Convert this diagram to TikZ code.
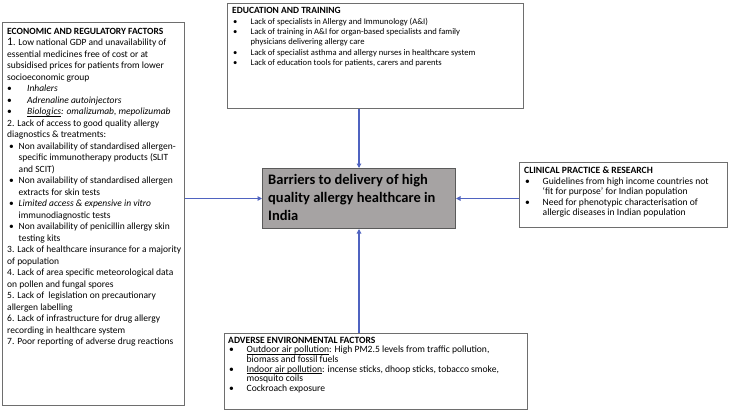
\documentclass[tikz,border=0pt]{standalone}
\usepackage{fontspec}
\setmainfont{Carlito}
\usetikzlibrary{arrows.meta}
\definecolor{boxline}{HTML}{6E6E6E}
\definecolor{arrowblue}{HTML}{4F63C0}
\definecolor{centerfill}{HTML}{A6A3A3}
\definecolor{centerline}{HTML}{5A5A5A}
\newcommand{\bigbul}{\makebox[20pt][l]{\hspace{0pt}•}}
\newcommand{\smbul}{\makebox[11.5pt][l]{\hspace{2pt}•}}
\newcommand{\smind}{\hspace*{11.5pt}}
\newcommand{\ebul}{\makebox[18.5pt][l]{\hspace{1pt}•}}
\newcommand{\eind}{\hspace*{18.5pt}}
\newcommand{\uln}[1]{\setbox0\hbox{#1}\rlap{\rule[-1.3pt]{\wd0}{0.5pt}}\box0}
\begin{document}
\begin{tikzpicture}[x=1pt,y=-1pt,
  box/.style={draw=boxline,line width=0.9pt,fill=white,anchor=north west,inner sep=0pt},
  centerbox/.style={draw=centerline,line width=1pt,fill=centerfill,anchor=north west,inner sep=0pt},
  bigtxt/.style={anchor=north west,inner sep=0pt,align=left,font=\fontsize{9.5}{11.5}\selectfont},
  txt/.style={anchor=north west,inner sep=0pt,align=left,font=\fontsize{8.6}{10.3}\selectfont},
  advtext/.style={anchor=north west,inner sep=0pt,align=left,font=\fontsize{9.6}{9.7}\selectfont},
  clintext/.style={anchor=north west,inner sep=0pt,align=left,font=\fontsize{9.6}{10.4}\selectfont},
  ctxt/.style={anchor=north west,inner sep=0pt,align=left,font=\fontsize{14.5}{18}\selectfont\bfseries},
  conn/.style={draw=arrowblue,line width=1.1pt,-{Triangle[length=4.5pt,width=4.5pt]}}]
\useasboundingbox (0,0) rectangle (733,413);
\fill[white] (0,0) rectangle (733,413);

% boxes
\node[box,minimum width=182pt,minimum height=383pt] (econ) at (2,22) {};
\node[box,minimum width=296pt,minimum height=105pt] (edu) at (227,3) {};
\node[centerbox,minimum width=193pt,minimum height=60pt] (center) at (262,168) {};
\node[box,minimum width=208pt,minimum height=65pt] (clin) at (519,162) {};
\node[box,minimum width=303pt,minimum height=76pt] (adv) at (224,333) {};

% texts
\node[bigtxt] (econtxt) at ([xshift=5pt,yshift=-6pt]econ.north west) {%
\textbf{ECONOMIC AND REGULATORY FACTORS}\\
{\fontsize{11.5}{11.5}\selectfont 1}. Low national GDP and unavailability of\\
essential medicines free of cost or at\\
subsidised prices for patients from lower\\
socioeconomic group\\
\bigbul\textit{Inhalers}\\
\bigbul\textit{Adrenaline autoinjectors}\\
\bigbul\textit{\uln{Biologics}: omalizumab, mepolizumab}\\
2. Lack of access to good quality allergy\\
diagnostics \& treatments:\\
\smbul Non availability of standardised allergen-\\
\smind specific immunotherapy products (SLIT\\
\smind and SCIT)\\
\smbul Non availability of standardised allergen\\
\smind extracts for skin tests\\
\smbul \textit{Limited access \& expensive in vitro}\\
\smind immunodiagnostic tests\\
\smbul Non availability of penicillin allergy skin\\
\smind testing kits\\
3. Lack of healthcare insurance for a majority\\
of population\\
4. Lack of area specific meteorological data\\
on pollen and fungal spores\\
5. Lack of\ \ legislation on precautionary\\
allergen labelling\\
6. Lack of infrastructure for drug allergy\\
recording in healthcare system\\
7. Poor reporting of adverse drug reactions};

\node[txt] (edutxt) at ([xshift=5pt,yshift=-4.5pt]edu.north west) {%
{\fontsize{9.5}{10.3}\selectfont\textbf{EDUCATION AND TRAINING}}\\
\ebul Lack of specialists in Allergy and Immunology (A\&I)\\
\ebul Lack of training in A\&I for organ-based specialists and family\\
\eind physicians delivering allergy care\\
\ebul Lack of specialist asthma and allergy nurses in healthcare system\\
\ebul Lack of education tools for patients, carers and parents};

\node[ctxt] (centertxt) at ([xshift=6pt,yshift=-6pt]center.north west) {%
Barriers to delivery of high\\
quality allergy healthcare in\\
India};

\node[clintext] (clintxt) at ([xshift=5pt,yshift=-5pt]clin.north west) {%
\textbf{CLINICAL PRACTICE \& RESEARCH}\\
\ebul Guidelines from high income countries not\\
\eind ‘fit for purpose’ for Indian population\\
\ebul Need for phenotypic characterisation of\\
\eind allergic diseases in Indian population};

\node[advtext] (advtxt) at ([xshift=4pt,yshift=-3.5pt]adv.north west) {%
\textbf{ADVERSE ENVIRONMENTAL FACTORS}\\
\ebul \uln{Outdoor air pollution}: High PM2.5 levels from traffic pollution,\\
\eind biomass and fossil fuels\\
\ebul \uln{Indoor air pollution}: incense sticks, dhoop sticks, tobacco smoke,\\
\eind mosquito coils\\
\ebul Cockroach exposure};

% connectors
\draw[conn] (center.north |- edu.south) -- (center.north);
\draw[conn] (center.south |- adv.north) -- (center.south);
\draw[conn] (econ.east |- center.west) -- (center.west);
\draw[conn] (clin.west |- center.east) -- (center.east);
\end{tikzpicture}
\end{document}
